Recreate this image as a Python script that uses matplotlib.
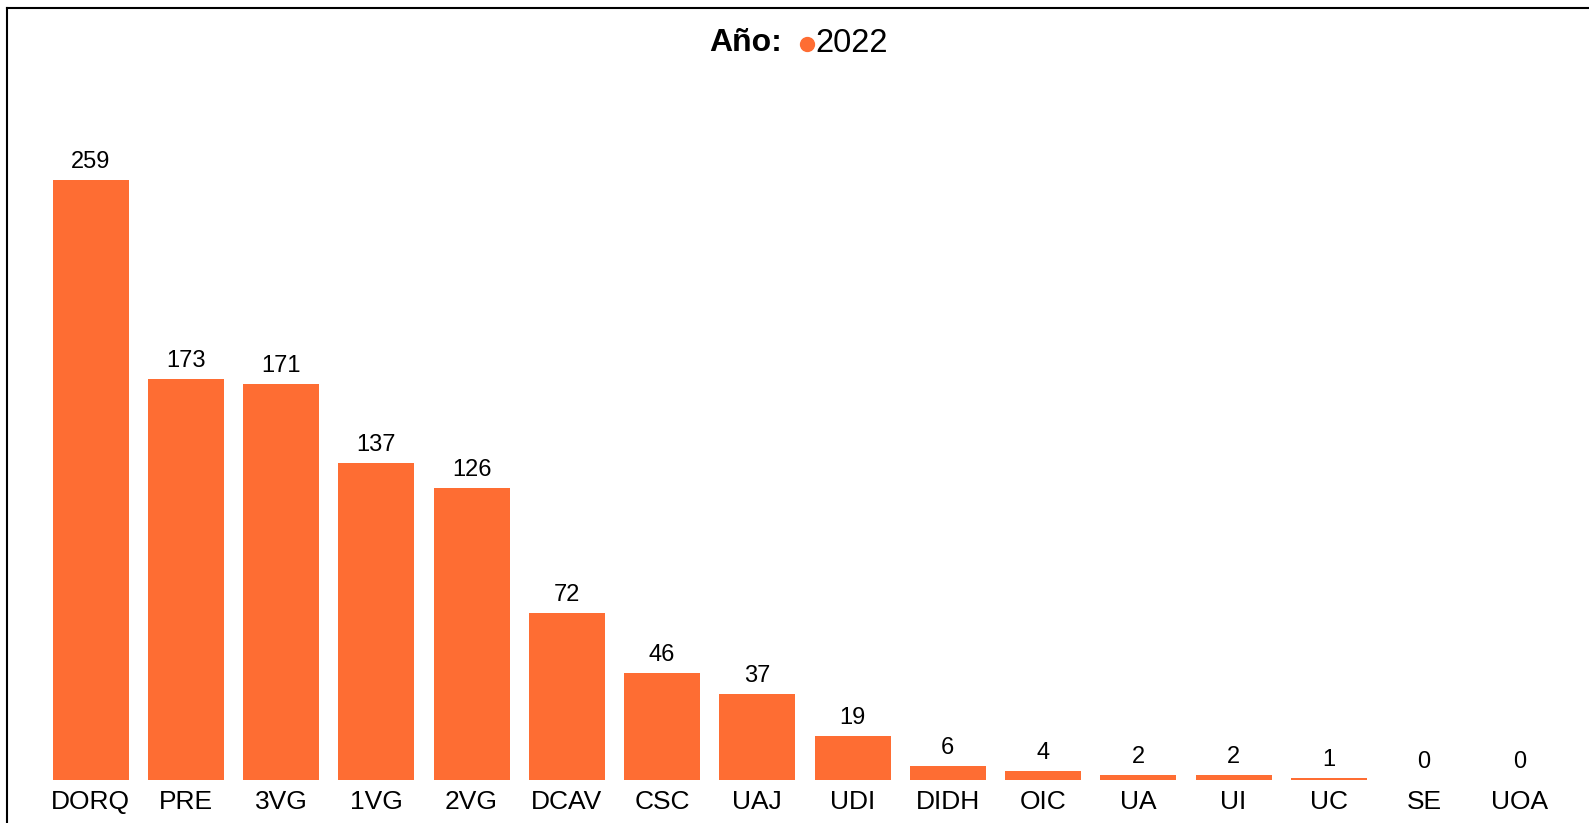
import matplotlib.pyplot as plt
from matplotlib.lines import Line2D

plt.rcParams['font.family'] = ['Liberation Sans', 'DejaVu Sans']

categories = ['DORQ', 'PRE', '3VG', '1VG', '2VG', 'DCAV', 'CSC', 'UAJ',
              'UDI', 'DIDH', 'OIC', 'UA', 'UI', 'UC', 'SE', 'UOA']
values_2022 = [259, 173, 171, 137, 126, 72, 46, 37, 19, 6, 4, 2, 2, 1, 0, 0]
series_name = '2022'
bar_color = '#FE6D33'

W, H = 1589, 823
fig = plt.figure(figsize=(W / 100, H / 100), dpi=100)
ax = fig.add_axes([43 / W, 1 - 780 / H, (1567 - 43) / W, (780 - 110) / H])

x = range(len(categories))
bars = ax.bar(x, values_2022, width=0.8, color=bar_color)
ax.bar_label(bars, labels=[str(v) for v in values_2022], padding=5, fontsize=17)

ax.set_xlim(-0.5, len(categories) - 0.5)
ax.set_ylim(0, 670 / (600 / 259))
ax.set_xticks(list(x))
ax.set_xticklabels(categories, fontsize=19)
ax.tick_params(axis='x', length=0, pad=7)
ax.set_yticks([])
for s in ax.spines.values():
    s.set_visible(False)

# legend line at the top
fig.text(782 / W, 1 - 43 / H, 'Año:', fontsize=23, fontweight='bold',
         ha='right', va='center')
fig.add_artist(Line2D([807 / W], [1 - 44 / H], marker='o', markersize=10,
                      color=bar_color, linestyle='none', transform=fig.transFigure))
fig.text(815 / W, 1 - 43 / H, series_name, fontsize=23.5, ha='left', va='center')

# frame (top and left edges visible)
fig.add_artist(Line2D([7 / W, 1], [1 - 8 / H, 1 - 8 / H], color='black',
                      linewidth=1.5, transform=fig.transFigure))
fig.add_artist(Line2D([7 / W, 7 / W], [0, 1 - 8 / H], color='black',
                      linewidth=1.5, transform=fig.transFigure))

fig.savefig('out.png', dpi=100)
